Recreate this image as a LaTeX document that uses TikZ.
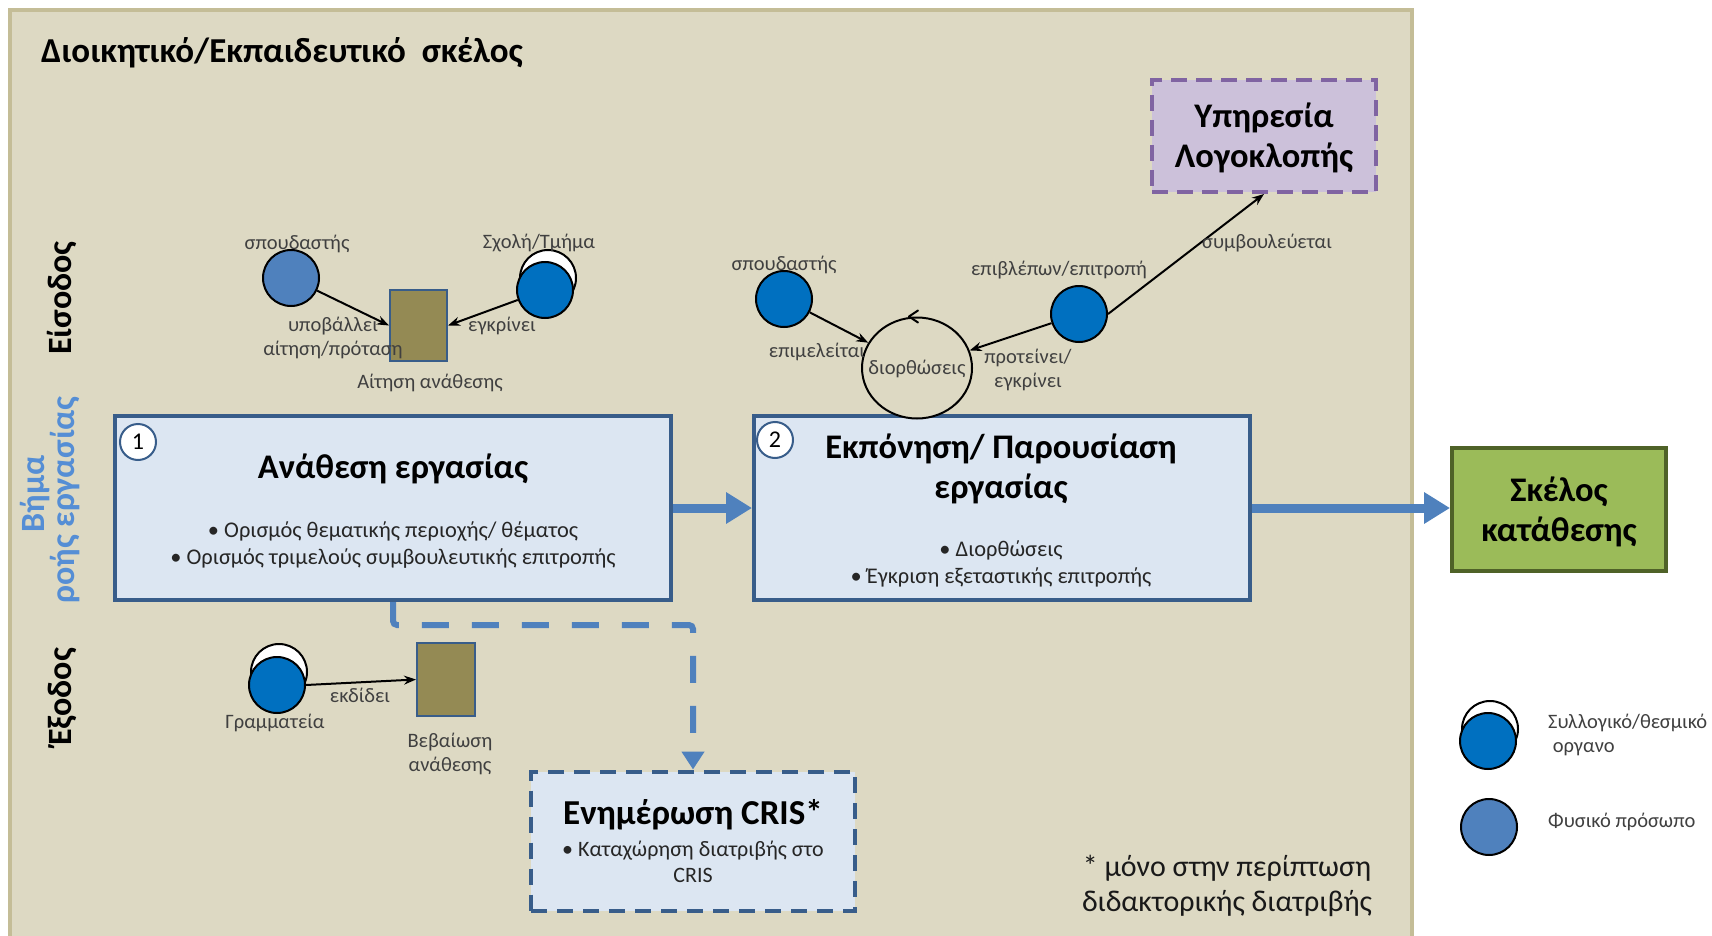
\documentclass[tikz,border=0pt]{standalone}
\usepackage{fontspec}
\setmainfont{Carlito}
\usetikzlibrary{arrows.meta,shapes.geometric}
\definecolor{panelc}{HTML}{DDD9C3}
\definecolor{panelb}{HTML}{C4BD97}
\definecolor{boxfill}{HTML}{DCE6F2}
\definecolor{boxb}{HTML}{385D8A}
\definecolor{flowc}{HTML}{4F81BD}
\definecolor{personc}{HTML}{4F81BD}
\definecolor{orgblue}{HTML}{0070C0}
\definecolor{docc}{HTML}{948A54}
\definecolor{greenfill}{HTML}{9BBB59}
\definecolor{greenb}{HTML}{4F6228}
\definecolor{purplefill}{HTML}{CCC1DA}
\definecolor{purpleb}{HTML}{8064A2}
\definecolor{lblc}{HTML}{404040}
\definecolor{txtc}{HTML}{262626}
\definecolor{vimac}{HTML}{558ED5}
\tikzset{
  lbl/.style={text=lblc, font=\fontsize{20.5pt}{24pt}\selectfont, inner sep=0pt},
  personnode/.style={circle, draw=black, line width=2pt, fill=personc, minimum size=56pt, inner sep=0pt},
  orgnode/.style={circle, draw=black, line width=2pt, fill=orgblue, minimum size=56pt, inner sep=0pt},
  halonode/.style={circle, draw=black, line width=2pt, fill=white, minimum size=56pt, inner sep=0pt},
  docbox/.style={rectangle, draw=boxb, line width=2pt, fill=docc, inner sep=0pt},
  conn/.style={draw=black, line width=2pt, -{Stealth[length=12pt,width=9pt]}},
  stepbox/.style={rectangle, draw=boxb, line width=4pt, fill=boxfill, inner sep=0pt},
  numnode/.style={circle, draw=boxb, line width=2pt, fill=white, minimum size=36pt, inner sep=0pt, font=\fontsize{24pt}{28pt}\selectfont},
  boxtitle/.style={font=\bfseries\fontsize{34.5pt}{40pt}\selectfont, align=center, inner sep=0pt},
  bullets/.style={text=txtc, font=\fontsize{22.4pt}{27pt}\selectfont, align=center, inner sep=0pt},
  bigflow/.style={draw=flowc, line width=9pt, -{Triangle[length=26pt,width=30pt]}},
  sidelbl/.style={rotate=90, font=\bfseries\fontsize{34pt}{26pt}\selectfont, align=center, inner sep=0pt}
}
\begin{document}
\begin{tikzpicture}[x=1pt,y=-1pt]
\useasboundingbox (0,0) rectangle (1712,936);
\fill[white] (0,0) rectangle (1712,936);
\draw[panelb, line width=4pt, fill=panelc] (10,10) rectangle (1412,980);

% title
\node[anchor=west, font=\bfseries\fontsize{35pt}{40pt}\selectfont, inner sep=0pt] (title) at (41,53) {Διοικητικό/Εκπαιδευτικό\ \ σκέλος};

% side labels
\node[sidelbl] (eisodos) at (62,298) {Είσοδος};
\node[sidelbl, text=vimac] (vima) at (50,500) {\hspace*{12pt}Βήμα\\ροής εργασίας};
\node[sidelbl] (exodos) at (62,697) {Έξοδος};

% step boxes
\node[stepbox, minimum width=556pt, minimum height=184pt] (box1) at (393,508) {};
\node[numnode] (n1) at (138,442) {1};
\node[boxtitle] (t1) at (393,469) {Ανάθεση εργασίας};
\node[bullets] (b1) at (393,545) {• Ορισμός θεματικής περιοχής/ θέματος\\• Ορισμός τριμελούς συμβουλευτικής επιτροπής};

\node[stepbox, minimum width=496pt, minimum height=184pt] (box2) at (1002,508) {};
\node[numnode] (n2) at (775,440) {2};
\node[boxtitle] (t2) at (1001,469) {Εκπόνηση/ Παρουσίαση\\εργασίας};
\node[bullets] (b2) at (1001,564) {• Διορθώσεις\\• Έγκριση εξεταστικής επιτροπής};

% green box
\node[rectangle, draw=greenb, line width=4pt, fill=greenfill, minimum width=214pt, minimum height=123pt, inner sep=0pt] (green) at (1559,509) {};
\node[boxtitle] (tg) at (1559,512) {Σκέλος\\κατάθεσης};

% purple box
\node[rectangle, draw=purpleb, line width=4pt, fill=purplefill, dash pattern=on 16pt off 9pt, minimum width=224pt, minimum height=112pt, inner sep=0pt] (purple) at (1264,136) {};
\node[boxtitle] (tp) at (1264,138) {Υπηρεσία\\Λογοκλοπής};

% CRIS box
\node[rectangle, draw=boxb, line width=4pt, fill=boxfill, dash pattern=on 16pt off 10pt, minimum width=324pt, minimum height=139pt, inner sep=0pt] (cris) at (693,841) {};
\node[font=\bfseries\fontsize{35pt}{40pt}\selectfont, inner sep=0pt] (tc) at (693,815) {Ενημέρωση CRIS*};
\node[text=txtc, font=\fontsize{22pt}{26pt}\selectfont, align=center, inner sep=0pt] (bc) at (693,862) {• Καταχώρηση διατριβής στο\\CRIS};

% flows
\draw[bigflow] (box1.east) -- (box2.west);
\draw[bigflow] (box2.east) -- (green.west |- box2.east);
\draw[draw=flowc, line width=6pt, dash pattern=on 27pt off 23pt, rounded corners=4pt, -{Triangle[length=18pt,width=22pt]}] (box1.south) -- ++(0,23) -| (cris.north);

% group 1 (input of step 1)
\node[personnode] (p1) at (291,278) {};
\node[lbl] (p1l) at (297,244) {σπουδαστής};
\node[halonode] (o1h) at (548,278) {};
\node[orgnode] (o1) at (545,290) {};
\node[lbl] (o1l) at (539,243) {Σχολή/Τμήμα};
\node[docbox, minimum width=57pt, minimum height=71pt] (sq1) at (418.5,325.5) {};
\draw[conn] (p1) -- (sq1.west);
\draw[conn] (o1) -- (sq1.east);
\node[lbl, align=center] (a1l) at (333,338) {υποβάλλει\\αίτηση/πρόταση};
\node[lbl] (a2l) at (502,326) {εγκρίνει};
\node[lbl] (sq1l) at (430,383) {Αίτηση ανάθεσης};

% group 2 (input of step 2)
\node[orgnode] (p2) at (784,299) {};
\node[lbl] (p2l) at (784,265) {σπουδαστής};
\node[ellipse, draw=black, line width=2pt, fill=panelc, minimum width=110pt, minimum height=101pt, inner sep=0pt] (dior) at (917,368) {};
\node[lbl] (diorl) at (917,369) {διορθώσεις};
\draw[black, line width=2pt, line cap=round, line join=round] ([shift={(1,-6)}]dior.north) -- ([shift={(-8,0)}]dior.north) -- ([shift={(1,6)}]dior.north);
\node[orgnode] (ep) at (1079,314) {};
\node[lbl] (epl) at (1059,270) {επιβλέπων/επιτροπή};
\draw[conn] (p2) -- (dior);
\draw[conn] (ep) -- (dior);
\draw[conn] (ep.east) -- (purple.south);
\node[lbl] (a4l) at (817,352) {επιμελείται};
\node[lbl, align=center] (a5l) at (1028,370) {προτείνει/\\εγκρίνει};
\node[lbl] (a6l) at (1267,243) {συμβουλεύεται};

% output group
\node[halonode] (grh) at (279,672) {};
\node[orgnode] (gr) at (277,685) {};
\node[lbl] (grl) at (275,723) {Γραμματεία};
\node[docbox, minimum width=58pt, minimum height=73pt] (sq2) at (446,679.5) {};
\draw[conn] (gr.east) -- (sq2.west);
\node[lbl] (a3l) at (360,695) {εκδίδει};
\node[lbl, align=center] (sq2l) at (450,754) {Βεβαίωση\\ανάθεσης};

% footnote
\node[text=black!90, font=\fontsize{30pt}{35pt}\selectfont, align=center, inner sep=0pt] (foot) at (1227,886) {* μόνο στην περίπτωση\\διδακτορικής διατριβής};

% legend
\node[halonode] (lgh) at (1490,729) {};
\node[orgnode] (lg) at (1488,741) {};
\node[lbl, anchor=west, align=left] (lgl) at (1548,735) {Συλλογικό/θεσμικό\\\ οργανο};
\node[personnode] (lp) at (1489,827) {};
\node[lbl, anchor=west] (lpl) at (1548,822) {Φυσικό πρόσωπο};
\end{tikzpicture}
\end{document}
